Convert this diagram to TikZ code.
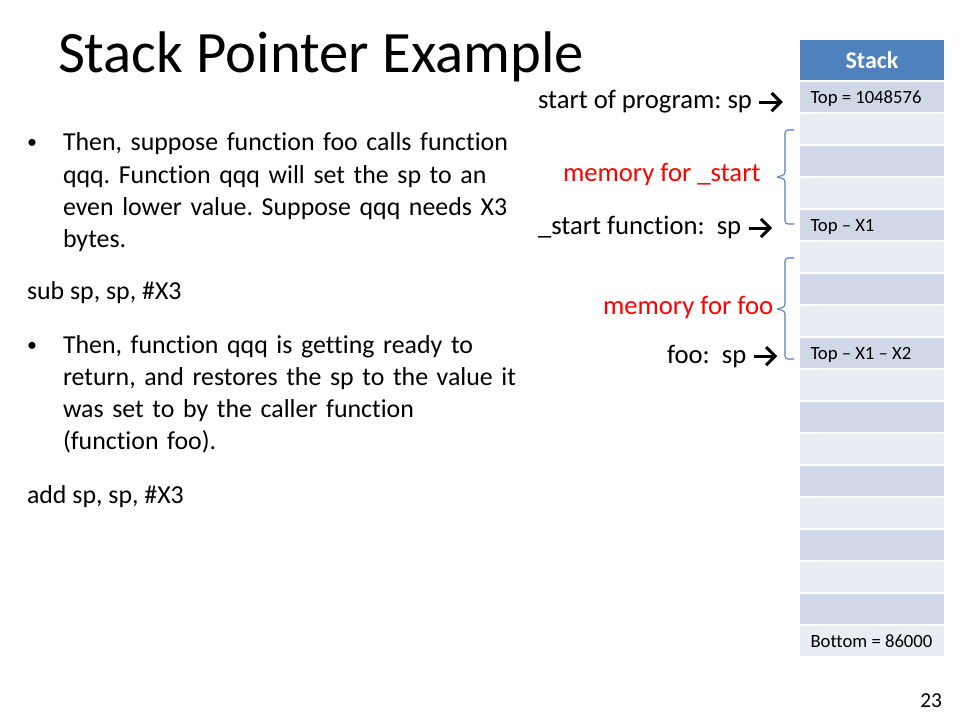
\documentclass[tikz,border=0pt]{standalone}
\usepackage{fontspec}
\setmainfont{Carlito}[Ligatures=CommonOff]
\usetikzlibrary{arrows.meta}
\definecolor{hdrblue}{HTML}{4F81BD}
\definecolor{rowdark}{HTML}{D0D8E8}
\definecolor{rowlight}{HTML}{E9EDF4}
\definecolor{bracecol}{HTML}{4F81BD}
\definecolor{memred}{HTML}{FF0000}
\newcommand\sparr{\tikz[baseline=-5.2pt,x=1pt,y=1pt]{\draw[line width=2.3pt] (0,0)--(15.2,0); \draw[line width=2.3pt,miter limit=6] (9.1,6.8)--(15.9,0)--(9.1,-6.8);}}
\frenchspacing
\begin{document}
\begin{tikzpicture}[x=0.75pt,y=-0.75pt,
  every node/.style={inner sep=0pt, outer sep=0pt},
  titletext/.style={font=\fontsize{44}{52}\selectfont, anchor=base west},
  bodytext/.style={font=\fontsize{20}{24.2}\selectfont, anchor=base west, align=left},
  lefttext/.style={font=\fontsize{19.4}{24.2}\selectfont, anchor=base west, align=left},
  para/.style={lefttext, text width=390pt},
  bulletmark/.style={font=\fontsize{15}{18}\selectfont, anchor=base west},
  memtext/.style={bodytext, text=memred},
  cell/.style={rectangle, minimum width=108pt, minimum height=22.9pt},
  hdrcell/.style={cell, fill=hdrblue, minimum height=29.5pt, text=white, font=\fontsize{18}{20}\bfseries\selectfont},
  celltext/.style={font=\fontsize{14}{16}\selectfont, anchor=base west},
  bracepath/.style={draw=bracecol, line width=0.8pt, rounded corners=2.2pt},
  pagenum/.style={font=\fontsize{16}{18}\selectfont, anchor=base east}]
\useasboundingbox (0,0) rectangle (960,720);
\fill[white] (0,0) rectangle (960,720);

% title
\node[titletext] (title) at (58,72.5) {Stack Pointer Example};

% left text
\node[bulletmark] (bul1) at (27,149) {•};
\node[para] (p1) at (63,151) {Then, suppose function foo calls function\\qqq. Function qqq will set the sp to an\\even lower value. Suppose qqq needs X3\\bytes.};
\node[lefttext] (sub) at (27,300) {sub sp, sp, \#X3};
\node[bulletmark] (bul2) at (27,351) {•};
\node[para] (p2) at (63,353) {Then, function qqq is getting ready to\\return, and restores the sp to the value it\\was set to by the caller function\\(function foo).};
\node[lefttext] (add) at (27,503) {add sp, sp, \#X3};

% stack table
\node[hdrcell] (hdr) at (872,60) {Stack};
\foreach \i in {0,...,17}{
  \pgfmathtruncatemacro\odd{mod(\i,2)}
  \ifnum\odd=0 \def\rc{rowdark}\else\def\rc{rowlight}\fi
  \node[cell, fill=\rc] (r\i) at (872,{97+32*\i}) {};
}
\node[celltext] (c0) at (810.5,103.5) {Top = 1048576};
\node[celltext] (c4) at (810.5,231.5) {Top – X1};
\node[celltext] (c8) at (810.5,359.5) {Top – X1 – X2};
\node[celltext] (c17) at (810.5,647.5) {Bottom = 86000};

% right labels
\node[bodytext] (lstart) at (538,109) {start of program: sp \sparr};
\node[memtext] (mstart) at (563,182) {memory for \_start};
\node[bodytext] (lfunc) at (538,235) {\_start function:\ \ sp \sparr};
\node[memtext] (mfoo) at (603,315) {memory for foo};
\node[bodytext] (lfoo) at (667,363) {foo:\ \ sp \sparr};

% braces
\coordinate (b1top) at (794,130);
\coordinate (b1tip) at (776,177);
\coordinate (b1bot) at (794,224);
\coordinate (b2top) at (794,258);
\coordinate (b2tip) at (776,309);
\coordinate (b2bot) at (794,359);
\draw[bracepath] (b1top) -- (785,130) -- (785,175) -- (b1tip) -- (785,179) -- (785,224) -- (b1bot);
\draw[bracepath] (b2top) -- (785,258) -- (785,307) -- (b2tip) -- (785,311) -- (785,359) -- (b2bot);

% page number
\node[pagenum] (pg) at (942,707) {23};
\end{tikzpicture}
\end{document}
